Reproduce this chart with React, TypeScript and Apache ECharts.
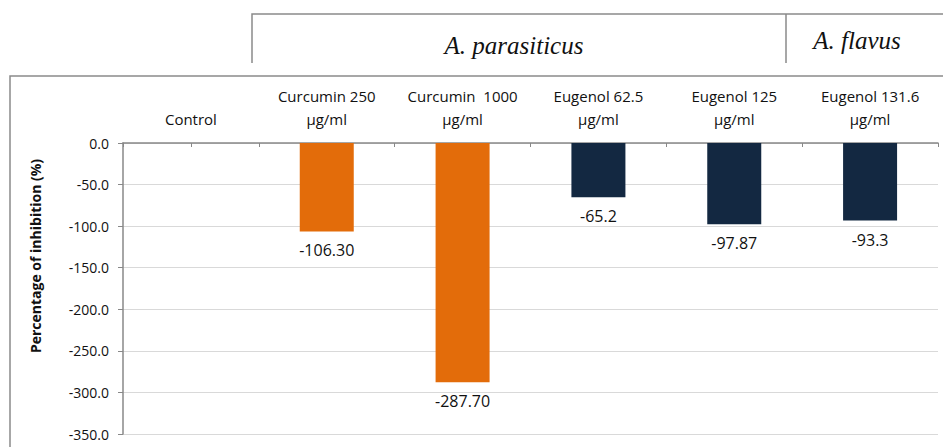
import React, { useEffect, useRef } from "react";
import * as echarts from "echarts";

const categories = [
  "Control",
  "Curcumin 250\nµg/ml",
  "Curcumin  1000\nµg/ml",
  "Eugenol 62.5\nµg/ml",
  "Eugenol 125\nµg/ml",
  "Eugenol 131.6\nµg/ml",
];
const values = [0, -106.3, -287.7, -65.2, -97.87, -93.3];
const valueLabels = ["", "-106.30", "-287.70", "-65.2", "-97.87", "-93.3"];
const barColors = ["#E36C0A", "#E36C0A", "#E36C0A", "#132841", "#132841", "#132841"];
const groupNames = ["A. parasiticus", "A. flavus"];

const FONT = "'Open Sans', 'Noto Sans', sans-serif";

export default function App() {
  const ref = useRef<HTMLDivElement>(null);
  useEffect(() => {
    const chart = echarts.init(ref.current!, null, { renderer: "svg" });
    chart.setOption({
      animation: false,
      backgroundColor: "#ffffff",
      grid: { left: 123, top: 143, right: 5, bottom: 13 },
      xAxis: [
        {
          type: "category",
          data: categories,
          position: "top",
          axisLine: { show: true, lineStyle: { color: "#888888", width: 1.5 } },
          axisTick: { show: false },
          axisLabel: {
            interval: 0,
            margin: 13,
            fontFamily: FONT,
            fontSize: 15,
            color: "#111111",
            lineHeight: 23,
          },
        },
        {
          type: "value",
          min: 0,
          max: 6,
          interval: 0.5,
          position: "top",
          axisLine: { show: false },
          axisTick: { show: true, inside: true, length: 4, lineStyle: { color: "#888888" } },
          axisLabel: { show: false },
          splitLine: { show: false },
        },
      ],
      yAxis: {
        type: "value",
        min: -350,
        max: 0,
        interval: 50,
        axisLine: { show: true, lineStyle: { color: "#888888", width: 1.5 } },
        axisTick: { show: true, length: 5, lineStyle: { color: "#888888" } },
        axisLabel: {
          margin: 14,
          fontFamily: FONT,
          fontSize: 14,
          color: "#111111",
          formatter: (v: number) => v.toFixed(1),
        },
        splitLine: { show: true, lineStyle: { color: "#d9d9d9", width: 1 } },
      },
      series: [
        {
          type: "bar",
          xAxisIndex: 0,
          barWidth: 54,
          data: values.map((v, i) => ({ value: v, itemStyle: { color: barColors[i] } })),
          label: {
            show: true,
            position: "bottom",
            distance: 11,
            fontFamily: FONT,
            fontSize: 16,
            color: "#111111",
            formatter: (p: any) => valueLabels[p.dataIndex],
          },
        },
      ],
      graphic: [
        {
          type: "rect",
          shape: { x: 10, y: 76, width: 950, height: 420 },
          style: { fill: "none", stroke: "#8a8a8a", lineWidth: 1.5 },
          silent: true,
        },
        {
          type: "polyline",
          shape: { points: [[252, 63], [252, 14], [950, 14]] },
          style: { fill: "none", stroke: "#8a8a8a", lineWidth: 1.5 },
          silent: true,
        },
        {
          type: "line",
          shape: { x1: 786, y1: 14, x2: 786, y2: 63 },
          style: { stroke: "#8a8a8a", lineWidth: 1.5 },
          silent: true,
        },
        {
          type: "text",
          x: 514,
          y: 45,
          style: {
            text: groupNames[0],
            font: "italic 25px 'Liberation Serif', 'DejaVu Serif', serif",
            fill: "#111111",
            align: "center",
            verticalAlign: "middle",
          },
        },
        {
          type: "text",
          x: 857,
          y: 40,
          style: {
            text: groupNames[1],
            font: "italic 25px 'Liberation Serif', 'DejaVu Serif', serif",
            fill: "#111111",
            align: "center",
            verticalAlign: "middle",
          },
        },
        {
          type: "text",
          x: 35,
          y: 256,
          rotation: Math.PI / 2,
          style: {
            text: "Percentage of inhibition (%)",
            font: `bold 14px ${FONT}`,
            fill: "#111111",
            align: "center",
            verticalAlign: "middle",
          },
        },
      ],
    });
    return () => chart.dispose();
  }, []);
  return (
    <div
      ref={ref}
      style={{ position: "fixed", left: 0, top: 0, width: 943, height: 447 }}
    />
  );
}
